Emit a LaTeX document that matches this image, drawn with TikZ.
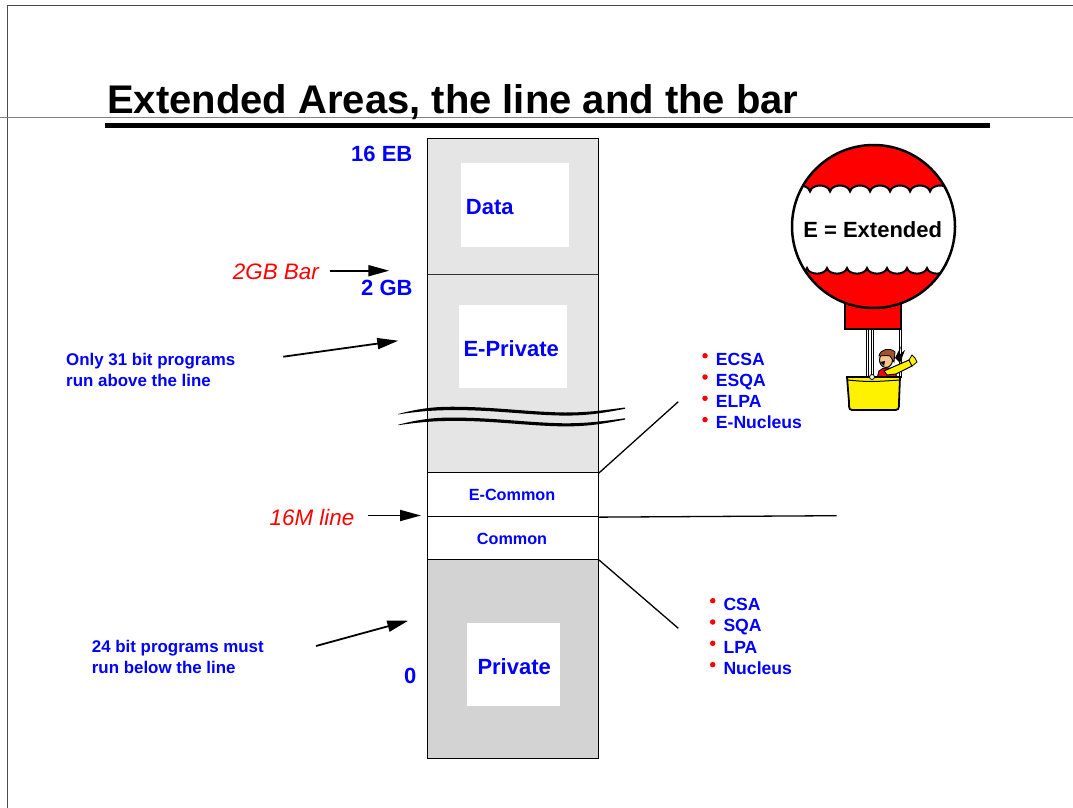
\documentclass[tikz,border=0pt]{standalone}
\usepackage{fontspec}
\setmainfont{Liberation Sans}
\usetikzlibrary{arrows.meta}
\definecolor{upperfill}{RGB}{229,229,229}
\definecolor{lowerfill}{RGB}{211,211,211}
\definecolor{skin}{RGB}{246,196,140}
\definecolor{hairbrown}{RGB}{160,82,45}
\newcommand\fsz[1]{\fontsize{#1}{#1}\selectfont}
\begin{document}
\begin{tikzpicture}[x=1pt,y=-1pt,
  area/.style={draw=black, line width=0.9pt, inner sep=0pt, minimum width=170.6pt},
  whitebox/.style={fill=white, inner sep=0pt},
  big/.style={text=blue, font=\bfseries\fsz{22}, inner sep=0pt},
  mid/.style={text=blue, font=\bfseries\fsz{16.2}, inner sep=0pt, anchor=base},
  note/.style={text=blue, font=\bfseries\fsz{16.9}, inner sep=0pt, anchor=base west},
  marker/.style={text=red, font=\itshape\fsz{22.4}, inner sep=0pt, anchor=base west},
  ptr/.style={-{Triangle[length=21pt,width=11pt]}, line width=1.8pt},
  link/.style={line width=1.3pt},
  item/.style={text=blue, font=\bfseries\fsz{17.6}, inner sep=0pt, anchor=base west},
  dot/.style={circle, fill=red, inner sep=0pt, minimum size=5.5pt},
  rope/.style={draw=black, double=white, double distance=1.2pt, line width=0.7pt}]
\useasboundingbox (0,0) rectangle (1073,808);

% slide frame, rule and title
\draw[line width=1pt, black!70] (7,808) -- (7,6) -- (1073,6);
\draw[line width=1pt, black!50] (0,117) -- (1073,117);
\node[anchor=base west, inner sep=0pt, font=\bfseries\fsz{40}] (title) at (107,113) {Extended Areas, the line and the bar};
\fill (105,122.7) rectangle (990,127.7);

% address-space column
\node[area, fill=upperfill, minimum height=334.4pt] (upper) at (513,305.5) {};
\node[area, fill=white, minimum height=44pt] (ecommon) at (513,494.7) {};
\node[area, fill=white, minimum height=42.6pt] (common) at (513,538) {};
\node[area, fill=lowerfill, minimum height=199pt] (private) at (513,658.8) {};
\coordinate (barleft) at (427.7,274);
\coordinate (barright) at (598.3,274);
\draw[line width=0.9pt, black!80] (barleft) -- (barright);

% inner labels
\node[whitebox, minimum width=108pt, minimum height=83.4pt] (databox) at (515,205) {};
\node[big, anchor=base west] (datatext) at (465.7,214) {Data};
\node[whitebox, minimum width=107.7pt, minimum height=82.7pt] (eprivbox) at (512.9,346.3) {};
\node[big, anchor=base west] (eprivtext) at (463.3,356) {E-Private};
\node[whitebox, minimum width=92.7pt, minimum height=83pt] (privbox) at (513.7,664.2) {};
\node[big, anchor=base west] (privtext) at (477.3,674) {Private};
\node[mid] (ecomtext) at (512,500.5) {E-Common};
\node[mid] (comtext) at (512,544) {Common};

% break marks across the column
\foreach \s in {0,-10.8}{
  \begin{scope}[yshift=\s pt]
    \fill (398,414) .. controls (425,407) and (440,406.5) .. (460,406.8)
      .. controls (500,407.5) and (530,412) .. (565,412.5)
      .. controls (590,412.5) and (605,410) .. (625,407.5)
      -- (625,408.8) .. controls (605,412.5) and (590,415.6) .. (565,415.6)
      .. controls (530,415.2) and (500,410.6) .. (460,410.1)
      .. controls (440,410) and (425,410.5) .. (398,414.4) -- cycle;
  \end{scope}
}

% boundary labels
\node[big, anchor=base west] (eb) at (351,161) {16 EB};
\node[big, anchor=base west] (gb) at (361,295.5) {2 GB};
\node[big, anchor=base west] (zero) at (404,683) {0};

% markers and pointers
\node[marker] (barlabel) at (232.7,279.3) {2GB Bar};
\coordinate (bartip) at (389.3,270.7);
\draw[ptr, shorten <=11pt] (barlabel.east |- bartip) -- (bartip);
\node[marker] (linelabel) at (269.5,525) {16M line};
\coordinate (linetip) at (421,515.5);
\draw[ptr, shorten <=13pt] (linelabel.east |- linetip) -- (linetip);

\node[note] (abovea) at (66,365) {Only 31 bit programs};
\node[note] (aboveb) at (66,386) {run above the line};
\coordinate (abovestart) at (283.3,356.7);
\coordinate (abovetip) at (398.3,340.7);
\draw[ptr] (abovestart) -- (abovetip);

\node[note] (belowa) at (91.7,652.7) {24 bit programs must};
\node[note] (belowb) at (91.7,673.4) {run below the line};
\coordinate (belowstart) at (316,646);
\coordinate (belowtip) at (408.3,620.7);
\draw[ptr] (belowstart) -- (belowtip);

% connectors to the lists
\coordinate (hiend) at (678.3,401.7);
\coordinate (midend) at (836.7,515.7);
\coordinate (loend) at (678.3,628.3);
\draw[link] (upper.south east) -- (hiend);
\draw[link] (ecommon.south east) -- (midend);
\draw[link] (common.south east) -- (loend);

% extended list
\foreach \t [count=\i] in {ECSA,ESQA,ELPA,E-Nucleus}{
  \node[dot] (hidot\i) at (705,{355.7+21.3*(\i-1)}) {};
  \node[item] (hiitem\i) at (715.7,{365+21.3*(\i-1)}) {\t};
}
% below-the-line list
\foreach \t [count=\i] in {CSA,SQA,LPA,Nucleus}{
  \node[dot] (lodot\i) at (712.7,{600.7+21.3*(\i-1)}) {};
  \node[item] (loitem\i) at (723.3,{610.5+21.3*(\i-1)}) {\t};
}

% hot-air balloon
\fill[red] (845,303) rectangle (901,329);
\draw[line width=2pt] (845,303) -- (845,329) -- (901,329) -- (901,303);
\fill[red] (873.5,226.5) circle[radius=81.5];
\begin{scope}
  \clip (873.5,226.5) circle[radius=81.5];
  \fill[white] (770,191.5)
    \foreach \i in {0,...,10}{ .. controls ({772+20*\i},183.5) and ({788+20*\i},183.5) .. ({790+20*\i},191.5) }
    -- (987,268)
    \foreach \i in {0,...,10}{ .. controls ({985-20*\i},275.5) and ({969-20*\i},275.5) .. ({967-20*\i},268) }
    -- cycle;
  \draw[line width=2pt] (770,191.5)
    \foreach \i in {0,...,10}{ .. controls ({772+20*\i},183.5) and ({788+20*\i},183.5) .. ({790+20*\i},191.5) };
  \draw[line width=2pt] (987,268)
    \foreach \i in {0,...,10}{ .. controls ({985-20*\i},275.5) and ({969-20*\i},275.5) .. ({967-20*\i},268) };
\end{scope}
\draw[line width=2.5pt] (873.5,226.5) circle[radius=81.5];
\node[font=\bfseries\fsz{22}, anchor=base, inner sep=0pt] (ext) at (872.7,237.3) {E = Extended};

% ropes
\draw[rope] (848,330) -- (848,378);
\draw[rope] (867.5,330) -- (867.5,377);
\draw[rope] (872.5,330) -- (872.5,377);
\draw[rope] (900.5,330) -- (900.5,378);

% passenger
\fill (895,358) -- (901,346) -- (899,355) -- (905,350) -- (900,363) -- cycle;
\draw[fill=red, line width=1pt] (877,379) -- (879,371) .. controls (883,367) and (890,367) .. (895,370) -- (897,379) -- cycle;
\draw[fill=yellow, line width=1pt] (884,371) -- (893,367) -- (909,360) -- (912,366) -- (896,374) -- (887,375) -- cycle;
\draw[fill=yellow, line width=0.8pt] (909,360) -- (912,355) -- (915,358) -- (917,362) -- (912,366) -- cycle;
\draw[fill=skin, line width=1pt] (886,360) ellipse[x radius=6.5, y radius=7.5];
\draw[fill=hairbrown, line width=0.8pt] (879,356) .. controls (880,349) and (890,347) .. (895,352) -- (894,362) -- (890,356) .. controls (886,355) and (882,356) .. (879,356) -- cycle;
\fill (880,362) -- (885,361) -- (884,366) -- cycle;

% basket
\draw[fill=yellow, line width=1.8pt] (847,377) -- (900,377) -- (899,402) .. controls (899,410) .. (892,410) -- (855,410) .. controls (849,410) .. (849,402) -- cycle;
\draw[line width=1pt] (847,380) .. controls (870,382) .. (900,380);
\draw[fill=white, line width=0.8pt] (872,377) circle[radius=2.5];
\end{tikzpicture}
\end{document}
